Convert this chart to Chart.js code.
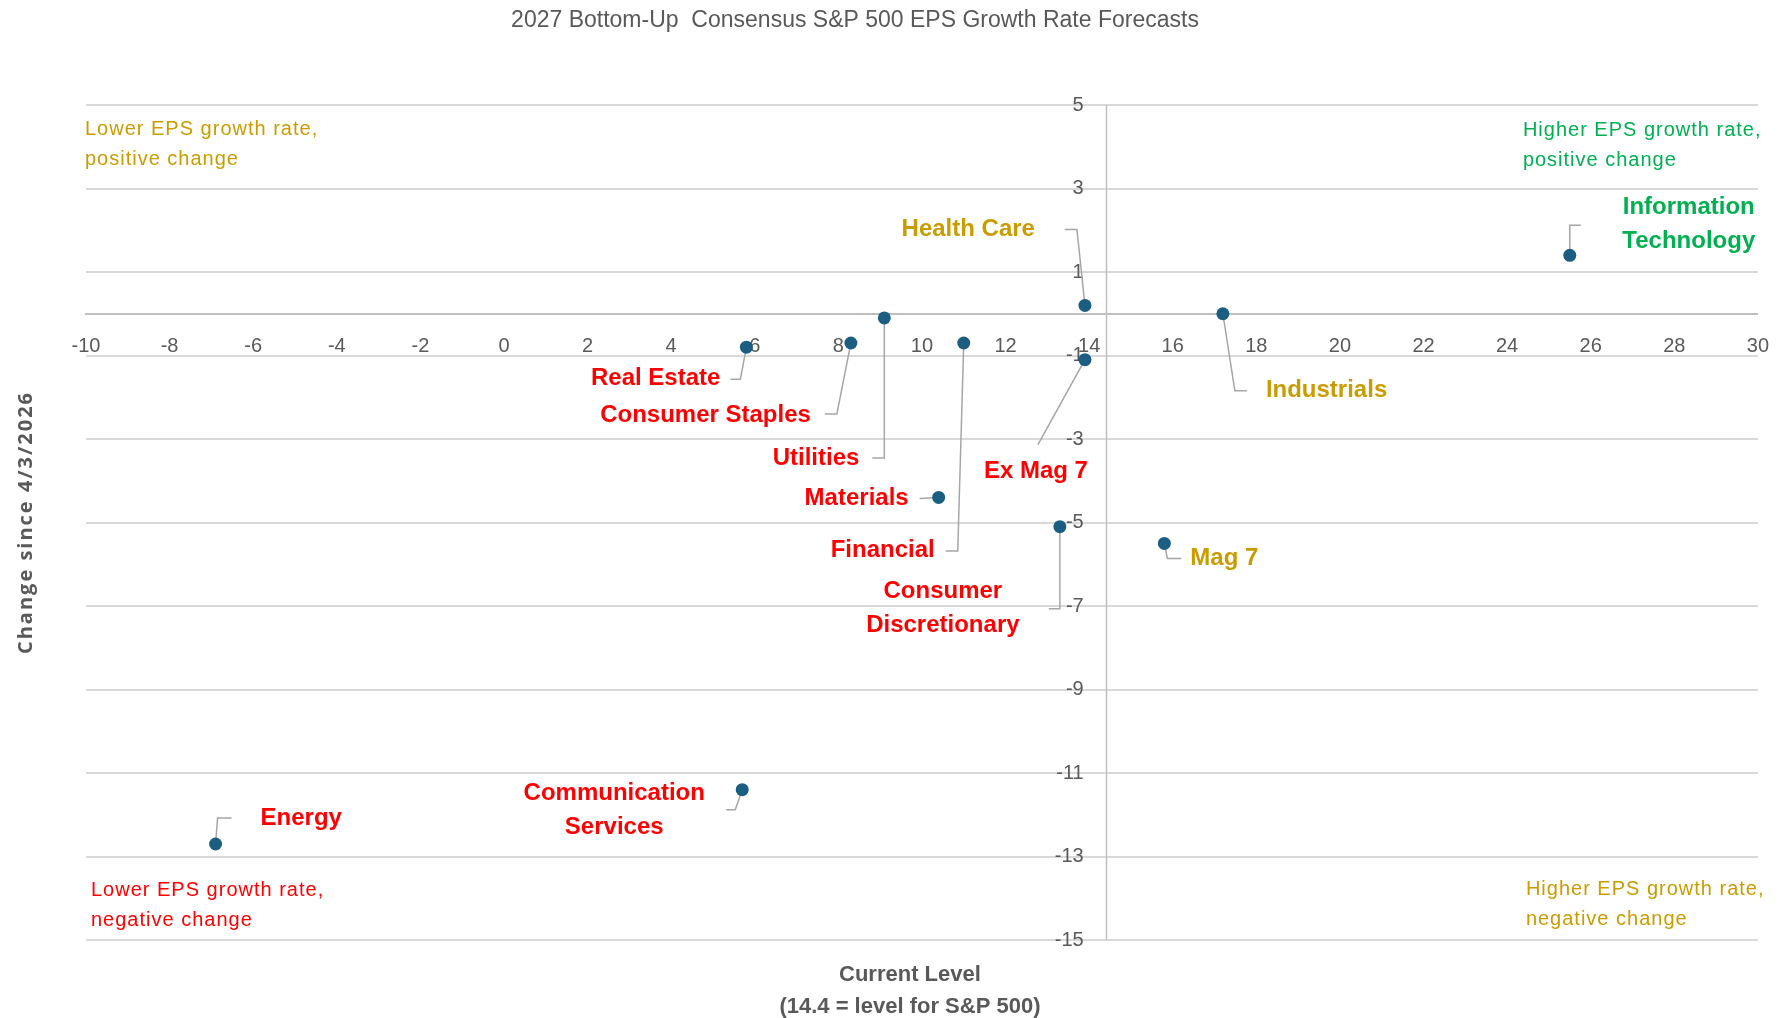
<!DOCTYPE html>
<html>
<head>
<meta charset="utf-8">
<script src="https://cdn.jsdelivr.net/npm/chart.js@4.4.1/dist/chart.umd.min.js"></script>
<style>
    html, body { margin: 0; padding: 0; background: #fff; }
    #wrap { width: 1787px; height: 1018px; }
</style>
</head>
<body>
<div id="wrap"><canvas id="epsGrowthChart" width="1787" height="1018"></canvas></div>
<script>
// 2027 consensus EPS growth (%) vs. change since 4/3/2026 (pts)
const sectors = [
    'Information Technology', 'Health Care', 'Industrials', 'Utilities',
    'Consumer Staples', 'Real Estate', 'Financial', 'Ex Mag 7', 'Materials',
    'Consumer Discretionary', 'Mag 7', 'Communication Services', 'Energy'
];
const currentLevel = [25.5, 13.9, 17.2, 9.1, 8.3, 5.8, 11.0, 13.9, 10.4, 13.3, 15.8, 5.7, -6.9];
const changeSince = [1.4, 0.2, 0.0, -0.1, -0.7, -0.8, -0.7, -1.1, -4.4, -5.1, -5.5, -11.4, -12.7];

const xTicks = [-10, -8, -6, -4, -2, 0, 2, 4, 6, 8, 10, 12, 14, 16, 18, 20, 22, 24, 26, 28, 30];
const yTicks = [5, 3, 1, -1, -3, -5, -7, -9, -11, -13, -15];
const spxLevel = 14.4;

const GREEN = '#00b050';
const GOLD = '#c99c00';
const RED = '#ff0000';
const GREY_TEXT = '#595959';
const FONT = '"Liberation Sans", Arial, sans-serif';

// y tick labels sit a little left of the S&P 500 line; the scale is anchored there
// and the line itself is drawn by the plugin
const yLabelGap = 0.53;

// quadrant colour: above/below zero change, left/right of the S&P 500 level
function quadrantColor(x, y) {
    if (y > 0) return x > spxLevel ? GREEN : GOLD;
    return x > spxLevel ? GOLD : RED;
}

// callout layout, offsets in px from each point
const callouts = {
    'Information Technology': { leader: [[0, -30], [11, -30]], dx: 119, dy: -48, align: 'center', wrap: true },
    'Health Care':            { leader: [[-8, -76], [-20, -76]], dx: -50, dy: -76, align: 'right' },
    'Industrials':            { leader: [[12, 77], [24, 77]], dx: 43, dy: 77, align: 'left' },
    'Utilities':              { leader: [[0, 140], [-12, 140]], dx: -25, dy: 140, align: 'right' },
    'Consumer Staples':       { leader: [[-14, 71], [-26, 71]], dx: -40, dy: 72, align: 'right' },
    'Real Estate':            { leader: [[-6, 32], [-16, 32]], dx: -26, dy: 31, align: 'right' },
    'Financial':              { leader: [[-6, 208], [-18, 208]], dx: -29, dy: 207, align: 'right' },
    'Ex Mag 7':               { leader: [[-47, 85]], dx: -49, dy: 112, align: 'center' },
    'Materials':              { leader: [[-19, 1]], dx: -30, dy: 1, align: 'right' },
    'Consumer Discretionary': { leader: [[0, 82], [-11, 82]], dx: -117, dy: 65, align: 'center', wrap: true },
    'Mag 7':                  { leader: [[3, 15], [17, 15]], dx: 26, dy: 15, align: 'left' },
    'Communication Services': { leader: [[-7, 20], [-16, 20]], dx: -128, dy: 4, align: 'center', wrap: true },
    'Energy':                 { leader: [[2, -26], [16, -26]], dx: 45, dy: -26, align: 'left' }
};

const quadrantNotes = [
    { lines: ['Lower EPS growth rate,', 'positive change'], color: GOLD, corner: 'tl' },
    { lines: ['Higher EPS growth rate,', 'positive change'], color: GREEN, corner: 'tr' },
    { lines: ['Lower EPS growth rate,', 'negative change'], color: RED, corner: 'bl' },
    { lines: ['Higher EPS growth rate,', 'negative change'], color: GOLD, corner: 'br' }
];

const chartTitle = '2027 Bottom-Up  Consensus S&P 500 EPS Growth Rate Forecasts';
const xTitle = ['Current Level', '(14.4 = level for S&P 500)'];
const yTitle = 'Change since 4/3/2026';

const calloutPlugin = {
    id: 'callouts',
    beforeDatasetsDraw(chart) {
        const ctx = chart.ctx;
        const ca = chart.chartArea;
        const meta = chart.getDatasetMeta(0);
        ctx.save();

        // vertical S&P 500 level line
        const sx = Math.round(chart.scales.x.getPixelForValue(spxLevel)) + 0.5;
        ctx.strokeStyle = '#bfbfbf';
        ctx.lineWidth = 1.5;
        ctx.beginPath();
        ctx.moveTo(sx, ca.top);
        ctx.lineTo(sx, ca.bottom);
        ctx.stroke();

        // leader lines
        ctx.strokeStyle = '#a6a6a6';
        ctx.lineWidth = 1.5;
        sectors.forEach((name, i) => {
            const p = meta.data[i];
            const spec = callouts[name];
            ctx.beginPath();
            ctx.moveTo(p.x, p.y);
            spec.leader.forEach(([dx, dy]) => ctx.lineTo(p.x + dx, p.y + dy));
            ctx.stroke();
        });
        ctx.restore();
    },
    afterDatasetsDraw(chart) {
        const ctx = chart.ctx;
        const meta = chart.getDatasetMeta(0);
        ctx.save();
        ctx.font = 'bold 24px ' + FONT;
        ctx.textBaseline = 'middle';
        sectors.forEach((name, i) => {
            const p = meta.data[i];
            const spec = callouts[name];
            const lines = spec.wrap ? name.split(' ') : [name];
            ctx.fillStyle = quadrantColor(currentLevel[i], changeSince[i]);
            ctx.textAlign = spec.align;
            lines.forEach((line, k) => {
                ctx.fillText(line, p.x + spec.dx, p.y + spec.dy + k * 34);
            });
        });
        ctx.restore();
    },
    afterDraw(chart) {
        const ctx = chart.ctx;
        const ca = chart.chartArea;
        ctx.save();

        // title
        ctx.fillStyle = GREY_TEXT;
        ctx.font = '23px ' + FONT;
        ctx.textAlign = 'center';
        ctx.textBaseline = 'alphabetic';
        ctx.fillText(chartTitle, 855, 27);

        // x axis title
        ctx.font = 'bold 22px ' + FONT;
        const xMid = (ca.left + ca.right) / 2 - 12;
        ctx.fillText(xTitle[0], xMid, ca.bottom + 41);
        ctx.fillText(xTitle[1], xMid, ca.bottom + 73);

        // y axis title
        ctx.save();
        ctx.translate(26, (ca.top + ca.bottom) / 2);
        ctx.rotate(-Math.PI / 2);
        ctx.font = 'bold 20px "Open Sans", sans-serif';
        ctx.letterSpacing = '2px';
        ctx.textBaseline = 'middle';
        ctx.fillText(yTitle, 0, 0);
        ctx.restore();

        // quadrant notes
        ctx.font = '20px ' + FONT;
        ctx.letterSpacing = '1px';
        ctx.textAlign = 'left';
        quadrantNotes.forEach(note => {
            let x, y;
            if (note.corner === 'tl') { x = ca.left - 1; y = ca.top + 30; }
            if (note.corner === 'tr') { x = ca.right - 235; y = ca.top + 31; }
            if (note.corner === 'bl') { x = ca.left + 5; y = ca.bottom - 44; }
            if (note.corner === 'br') { x = ca.right - 232; y = ca.bottom - 45; }
            ctx.fillStyle = note.color;
            note.lines.forEach((line, k) => ctx.fillText(line, x, y + k * 30));
        });
        ctx.restore();
    }
};

const ctx = document.getElementById('epsGrowthChart').getContext('2d');

new Chart(ctx, {
    type: 'scatter',
    data: {
        datasets: [{
            label: 'EPS growth',
            data: sectors.map((s, i) => ({ x: currentLevel[i], y: changeSince[i] })),
            backgroundColor: '#1b5e82',
            borderWidth: 0,
            pointRadius: 6.5,
            pointHoverRadius: 6.5
        }]
    },
    options: {
        responsive: false,
        animation: false,
        layout: {
            padding: { left: 86, right: 29, top: 105, bottom: 78 }
        },
        plugins: {
            legend: { display: false },
            tooltip: { enabled: false }
        },
        scales: {
            x: {
                type: 'linear',
                min: -10,
                max: 30,
                position: { y: 0 },
                afterBuildTicks: scale => { scale.ticks = xTicks.map(v => ({ value: v })); },
                grid: { display: false, drawTicks: false },
                border: { color: '#bfbfbf', width: 2 },
                ticks: {
                    color: GREY_TEXT,
                    font: { family: FONT, size: 20, lineHeight: 1.5 },
                    padding: 18,
                    autoSkip: false,
                    maxRotation: 0
                }
            },
            y: {
                type: 'linear',
                min: -15,
                max: 5,
                position: { x: spxLevel - yLabelGap },
                afterBuildTicks: scale => { scale.ticks = yTicks.map(v => ({ value: v })); },
                grid: { color: '#d9d9d9', lineWidth: 2, drawTicks: false },
                border: { display: false },
                ticks: {
                    color: GREY_TEXT,
                    font: { family: FONT, size: 20 },
                    autoSkip: false
                }
            }
        }
    },
    plugins: [calloutPlugin]
});
</script>
</body>
</html>
